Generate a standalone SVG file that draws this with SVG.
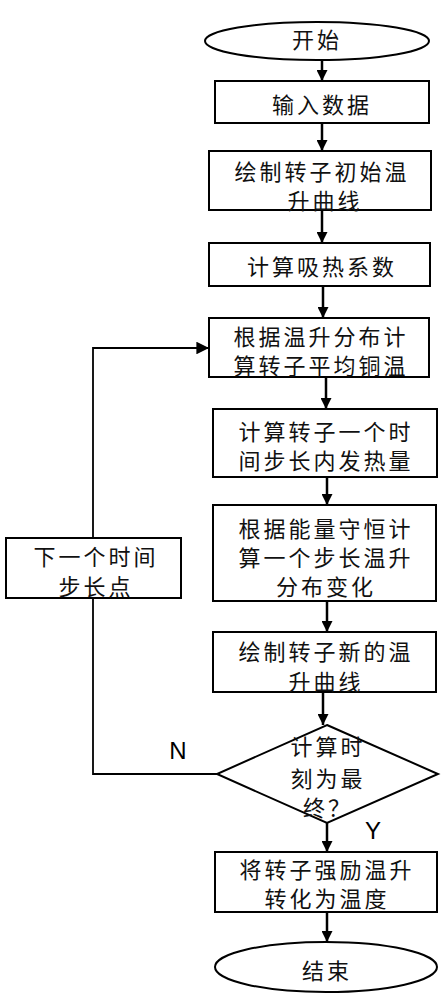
<svg xmlns="http://www.w3.org/2000/svg" width="445" height="1000" viewBox="0 0 445 1000">
<style>
.n{fill:#fff;stroke:#000;stroke-width:2}
.t{font-family:"Noto Sans CJK SC","Noto Sans",sans-serif;font-size:22px;letter-spacing:3px;text-anchor:middle;dominant-baseline:central;fill:#111}
.l{font-family:"Liberation Sans",Arial,sans-serif;font-size:24px;text-anchor:middle;dominant-baseline:central;fill:#000}
.c{fill:none;stroke:#000;stroke-width:2.5}
.cl{fill:none;stroke:#000;stroke-width:1.8}
</style>
<defs>
<marker id="ah" viewBox="0 0 10 10" refX="10" refY="5" markerWidth="4.4" markerHeight="4.4" orient="auto" markerUnits="strokeWidth">
<path d="M0,0 L10,5 L0,10 z" fill="#000"/>
</marker>
<marker id="ah2" viewBox="0 0 10 10" refX="10" refY="5" markerWidth="7" markerHeight="7" orient="auto" markerUnits="strokeWidth">
<path d="M0,0 L10,5 L0,10 z" fill="#000"/>
</marker>
</defs>
<g id="connectors">
<path class="c" d="M322,60 V81" marker-end="url(#ah)"/>
<path class="c" d="M322,123 V151" marker-end="url(#ah)"/>
<path class="c" d="M322,210 V243" marker-end="url(#ah)"/>
<path class="c" d="M323,286 V318" marker-end="url(#ah)"/>
<path class="c" d="M326,377 V409" marker-end="url(#ah)"/>
<path class="c" d="M327,477 V505" marker-end="url(#ah)"/>
<path class="c" d="M327,601 V632" marker-end="url(#ah)"/>
<path class="c" d="M323,692 V725" marker-end="url(#ah)"/>
<path class="c" d="M327,823 V852" marker-end="url(#ah)"/>
<path class="c" d="M327,912 V942" marker-end="url(#ah)"/>
<path class="cl" d="M217,774 H93 V598"/>
<path class="cl" d="M93,538 V348 H209" marker-end="url(#ah2)"/>
<text class="l" x="178" y="750">N</text>
<text class="l" x="373" y="830">Y</text>
</g>
<g id="start"><ellipse class="n" cx="317" cy="41" rx="112" ry="19"/><text class="t" x="317" y="38">开始</text></g>
<g id="input"><rect class="n" x="215" y="81" width="214" height="42"/><text class="t" x="322" y="103">输入数据</text></g>
<g id="draw-init"><rect class="n" x="209" y="151" width="222" height="59"/><text class="t" x="322" y="170">绘制转子初始温</text><text class="t" x="325" y="199">升曲线</text></g>
<g id="absorb"><rect class="n" x="209" y="243" width="221" height="43"/><text class="t" x="322" y="265">计算吸热系数</text></g>
<g id="avg-temp"><rect class="n" x="209" y="318" width="220" height="59"/><text class="t" x="321" y="335">根据温升分布计</text><text class="t" x="321" y="364">算转子平均铜温</text></g>
<g id="heat"><rect class="n" x="213" y="409" width="224" height="68"/><text class="t" x="326" y="430">计算转子一个时</text><text class="t" x="326" y="459">间步长内发热量</text></g>
<g id="energy"><rect class="n" x="213" y="505" width="223" height="96"/><text class="t" x="326" y="527">根据能量守恒计</text><text class="t" x="326" y="556">算一个步长温升</text><text class="t" x="326" y="585">分布变化</text></g>
<g id="draw-new"><rect class="n" x="213" y="632" width="223" height="60"/><text class="t" x="326" y="650">绘制转子新的温</text><text class="t" x="326" y="680">升曲线</text></g>
<g id="decision"><polygon class="n" points="327,725 438,774 327,823 217,774"/><text class="t" x="328" y="745">计算时</text><text class="t" x="328" y="777">刻为最</text><text class="t" x="328" y="806">终？</text></g>
<g id="next-step"><rect class="n" x="6" y="538" width="175" height="60"/><text class="t" x="96" y="555">下一个时间</text><text class="t" x="96" y="585">步长点</text></g>
<g id="convert"><rect class="n" x="215" y="852" width="222" height="60"/><text class="t" x="327" y="868">将转子强励温升</text><text class="t" x="327" y="897">转化为温度</text></g>
<g id="end"><ellipse class="n" cx="326" cy="967" rx="111" ry="25"/><text class="t" x="327" y="969">结束</text></g>
</svg>
